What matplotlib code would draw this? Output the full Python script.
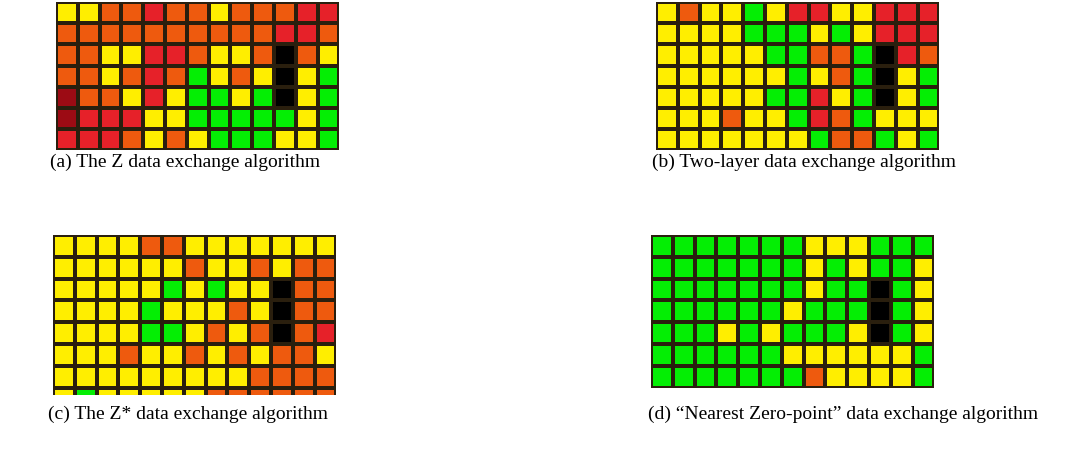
import matplotlib
matplotlib.use('Agg')
import matplotlib.pyplot as plt
import numpy as np
from matplotlib.colors import ListedColormap

# cell categories: Y yellow, O orange, R red, D dark red, G green, K black (obstacle)
codes = ['Y', 'O', 'R', 'D', 'G', 'K']
palette = ['#FFEE00', '#EE5A0E', '#E62129', '#9C0B14', '#04EE04', '#000000']

grid_a = [
    "YYOOROOYOOORR",
    "OOOOOOOOOORRO",
    "OOYYRROYYOKOY",
    "OOYOROGYOYKYG",
    "DOOYRYGGYGKYG",
    "DRRRYYGGGGGYG",
    "RRROYOYGGGYYG",
]
grid_b = [
    "YOYYGYRRYYRRR",
    "YYYYGGGYGYRRR",
    "YYYYYGGOOGKRO",
    "YYYYYYGYOGKYG",
    "YYYYYGGRYGKYG",
    "YYYOYYGROGYYY",
    "YYYYYYYGOOGYG",
]
grid_c = [
    "YYYYOOYYYYYYY",
    "YYYYYYOYYOYOO",
    "YYYYYGYGYYKOO",
    "YYYYGYYYOYKOO",
    "YYYYGGYOYOKOR",
    "YYYOYYOYOYOOY",
    "YYYYYYYYYOOOO",
    "YGYYYYYOOOOOO",
]
grid_d = [
    "GGGGGGGYYYGGG",
    "GGGGGGGYGYGGY",
    "GGGGGGGYGGKGY",
    "GGGGGGYGGGKGY",
    "GGGYGYGGGYKGY",
    "GGGGGGYYYYYYG",
    "GGGGGGGOYYYYG",
]
captions = [
    "(a) The Z data exchange algorithm",
    "(b) Two-layer data exchange algorithm",
    "(c) The Z* data exchange algorithm",
    "(d) \u201cNearest Zero-point\u201d data exchange algorithm",
]

W, H = 1073, 459
fig = plt.figure(figsize=(W / 100, H / 100), dpi=100)
fig.patch.set_facecolor('white')
cmap = ListedColormap(palette)

cell_w = 21.8
# (left, top, cell height, visible rows) of each screenshot grid; caption (left, centre y)
boxes = [(56, 2, 21.2, 7.0), (656, 2, 21.2, 7.0), (53, 235, 21.8, 7.35), (651, 235, 21.8, 7.0)]
cap_pos = [(50, 162), (652, 162), (48, 414), (648, 414)]
grids = [grid_a, grid_b, grid_c, grid_d]

for (left, top, ch, vis), g, cap, (cx, cy) in zip(boxes, grids, captions, cap_pos):
    arr = np.array([[codes.index(c) for c in row] for row in g])
    nr, nc = arr.shape
    w, h = nc * cell_w, vis * ch
    ax = fig.add_axes([left / W, 1 - (top + h) / H, w / W, h / H])
    ax.pcolormesh(np.arange(nc + 1), np.arange(nr + 1), arr, cmap=cmap,
                  vmin=-0.5, vmax=len(codes) - 0.5,
                  edgecolors='#2a1f0e', linewidth=1.6)
    ax.set_xlim(0, nc)
    ax.set_ylim(vis, 0)
    ax.axis('off')
    fig.text(cx / W, 1 - cy / H, cap, family='Liberation Serif',
             fontsize=14, ha='left', va='center', color='black')

fig.savefig('out.png', dpi=100, facecolor='white')
